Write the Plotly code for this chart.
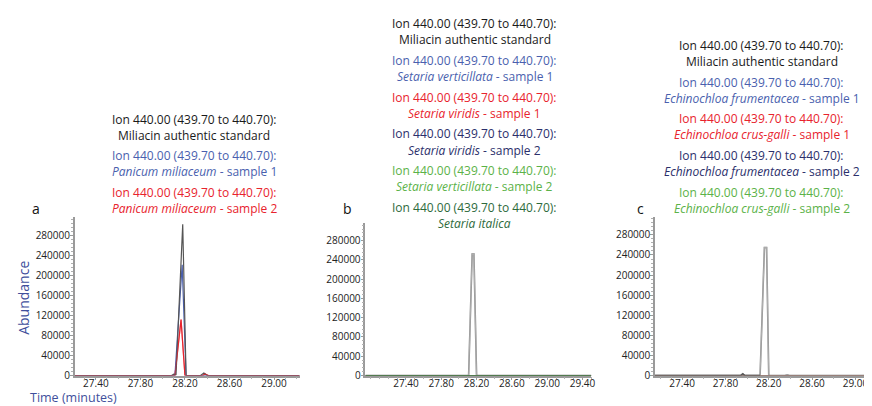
import plotly.graph_objects as go

# ---- data (time in minutes, abundance) ----
# panel a
t_a_std = [27.21, 28.08, 28.10, 28.12, 28.18, 28.21, 28.34, 28.37, 28.40, 29.23]
ab_a_std = [0, 0, 3000, 2000, 303000, 0, 0, 5000, 0, 0]
t_a_s1 = [27.21, 28.11, 28.175, 28.21, 29.23]
ab_a_s1 = [0, 0, 222000, 0, 0]
t_a_s2 = [27.21, 28.11, 28.165, 28.20, 28.36, 28.38, 28.41, 29.23]
ab_a_s2 = [0, 0, 112000, 0, 0, 3000, 0, 0]

# panel b
t_b_std = [26.94, 28.11, 28.15, 28.17, 28.20, 29.50]
ab_b_std = [0, 0, 252000, 252000, 0, 0]
t_b_flat = [26.94, 29.50]
ab_b_flat = [0, 0]

# panel c
t_c_std = [27.15, 27.94, 27.96, 27.98, 28.12, 28.16, 28.18, 28.20, 28.35, 28.37, 28.39, 29.19]
ab_c_std = [0, 0, 3500, 0, 0, 255000, 255000, 0, 0, 1500, 0, 0]
t_c_flat = [27.15, 29.19]
ab_c_flat = [0, 0]

x_ticks_a = [27.40, 27.80, 28.20, 28.60, 29.00]
x_ticks_b = [27.40, 27.80, 28.20, 28.60, 29.00, 29.40]
y_ticks = [0, 40000, 80000, 120000, 160000, 200000, 240000, 280000]

ion = "Ion 440.00 (439.70 to 440.70):"
labels_a = [("Miliacin authentic standard", "", "#1a1a1a"),
            ("Panicum miliaceum", " - sample 1", "#4a5fae"),
            ("Panicum miliaceum", " - sample 2", "#e8232d")]
labels_b = [("Miliacin authentic standard", "", "#1a1a1a"),
            ("Setaria verticillata", " - sample 1", "#4a5fae"),
            ("Setaria viridis", " - sample 1", "#e8232d"),
            ("Setaria viridis", " - sample 2", "#2b2f6b"),
            ("Setaria verticillata", " - sample 2", "#5bb248"),
            ("Setaria italica", "", "#2e6a3c")]
labels_c = [("Miliacin authentic standard", "", "#1a1a1a"),
            ("Echinochloa frumentacea", " - sample 1", "#4a5fae"),
            ("Echinochloa crus-galli", " - sample 1", "#e8232d"),
            ("Echinochloa frumentacea", " - sample 2", "#2b2f6b"),
            ("Echinochloa crus-galli", " - sample 2", "#5bb248")]

W, H = 872, 406
FONT = "Open Sans"

fig = go.Figure()

def line(x, y, color, axis, width=1.2):
    fig.add_trace(go.Scatter(x=x, y=y, mode="lines", xaxis="x" + axis, yaxis="y" + axis,
                             line=dict(color=color, width=width), showlegend=False,
                             hoverinfo="skip"))

# panel a
line(t_a_s2, ab_a_s2, "#e8232d", "")
line(t_a_s1, ab_a_s1, "#4a5fae", "")
line(t_a_std, ab_a_std, "#555555", "")
line(t_a_s2, ab_a_s2, "rgba(232,35,45,0.5)", "")
# panel b
line(t_b_std, ab_b_std, "#7a7a7a", "2", 1.6)
line(t_b_std, ab_b_std, "#ffffff", "2", 0.4)
for c in ["#4a5fae", "#e8232d", "#2b2f6b", "#2e6a3c", "rgba(91,178,72,0.8)"]:
    line(t_b_flat, ab_b_flat, c, "2")
# panel c
line(t_c_std, ab_c_std, "#7a7a7a", "3", 1.6)
line(t_c_std, ab_c_std, "#ffffff", "3", 0.4)
for c in ["#4a5fae", "#e8232d", "#2b2f6b", "rgba(200,201,138,0.9)"]:
    line(t_c_flat, ab_c_flat, c, "3")
line(t_c_std[:5], ab_c_std[:5], "#555555", "3", 1.4)

def px_x(p):
    return p / W

def px_y(p):
    return 1 - p / H

def xaxis(left, right, rng, ticks):
    return dict(domain=[px_x(left), px_x(right)], range=rng, tickvals=ticks,
                ticktext=["%.2f" % v for v in ticks], showgrid=False, zeroline=False,
                showline=True, linecolor="#9a9a9a", linewidth=1.5, ticks="outside",
                ticklen=3, tickcolor="#9a9a9a", tickfont=dict(size=10, color="#222", family=FONT),
                ticklabelstandoff=-5,
                minor=dict(dtick=0.1, ticks="outside", ticklen=2, tickcolor="#b0b0b0"))

def yaxis(top, anchor, rng_top):
    return dict(domain=[px_y(374), px_y(top)], range=[0, rng_top], tickvals=y_ticks,
                ticktext=[str(v) for v in y_ticks], showgrid=False, zeroline=False,
                showline=True, linecolor="#9a9a9a", linewidth=1.5, ticks="outside",
                ticklen=3, tickcolor="#9a9a9a", tickfont=dict(size=10, color="#222", family=FONT),
                ticklabelstandoff=-2,
                minor=dict(dtick=8000, ticks="outside", ticklen=2, tickcolor="#b0b0b0"),
                anchor=anchor)

annotations = []

def text(x, y, s, color, size=12, **kw):
    annotations.append(dict(x=px_x(x), y=px_y(y), xref="paper", yref="paper", text=s,
                            showarrow=False, font=dict(size=size, color=color, family=FONT),
                            xanchor="center", yanchor="middle", **kw))

def block(cx, y0, labels):
    for i, (species, tail, color) in enumerate(labels):
        y = y0 + i * 37.4
        text(cx, y, ion, color)
        if tail == "" and species.startswith("Miliacin"):
            text(cx, y + 16.3, species, color)
        else:
            text(cx, y + 16.3, "<i>" + species + "</i>" + tail, color)

block(187, 113, labels_a)
block(469, 16, labels_b)
block(757, 38, labels_c)

text(28, 204, "a", "#111", 14)
text(341, 204, "b", "#111", 14)
text(635, 204, "c", "#111", 14)
text(16, 295, "Abundance", "#3f4f9c", 14, textangle=-90)
annotations.append(dict(x=px_x(21), y=px_y(406), xref="paper", yref="paper",
                        text="Time (minutes)", showarrow=False, xanchor="left", yanchor="bottom",
                        font=dict(size=12.5, color="#3f4f9c", family=FONT), borderpad=0))

fig.update_layout(
    width=W, height=H, margin=dict(l=0, r=0, t=0, b=0),
    paper_bgcolor="white", plot_bgcolor="white",
    xaxis=xaxis(67, 293, [27.21, 29.23], x_ticks_a),
    yaxis=yaxis(213, "x", 317000),
    xaxis2=xaxis(359, 586, [26.94, 29.50], x_ticks_b),
    yaxis2=yaxis(219, "x2", 316000),
    xaxis3=xaxis(650, 872, [27.15, 29.19], x_ticks_a),
    yaxis3=yaxis(213, "x3", 315000),
    annotations=annotations,
)
fig.layout.xaxis2.anchor = "y2"
fig.layout.xaxis3.anchor = "y3"

fig.write_html("out.html")
